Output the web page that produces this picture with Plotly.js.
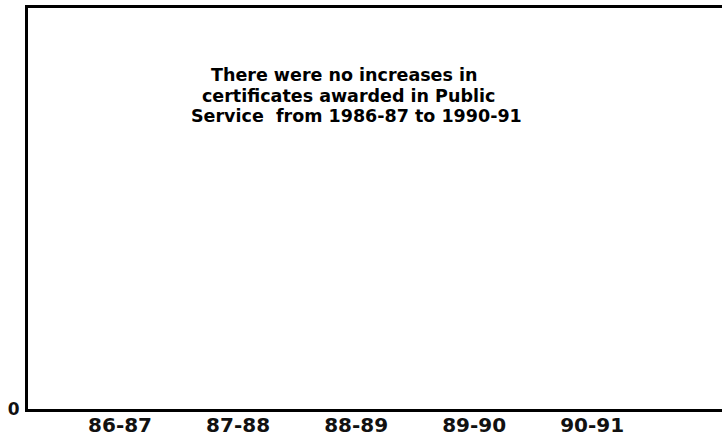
<!DOCTYPE html>
<html>
<head>
<meta charset="utf-8">
<script src="https://cdn.plot.ly/plotly-3.0.1.min.js"></script>
<style>html,body{margin:0;padding:0;background:#fff;}#chart{width:722px;height:438px;}</style>
</head>
<body>
<div id="chart"></div>
<script>
const categories = ["86-87", "87-88", "88-89", "89-90", "90-91"];
const certificates = [0, 0, 0, 0, 0];
const yTickValues = [0];
const yTickLabels = ["0"];
const noteLines = [
  "There were no increases in",
  "certificates awarded in Public",
  "Service  from 1986-87 to 1990-91"
];

const FONT = "DejaVu Sans, Verdana, sans-serif";
const plotTop = 8, plotBottom = 409, plotLeft = 28, plotWidth = 722 - 28;
const linePix = [75, 95.5, 116];
const lineX = [344, 348, 356];

const trace = {
  type: "bar",
  x: [0, 1, 2, 3, 4],
  y: certificates,
  marker: {color: "#000"},
  hoverinfo: "skip"
};

const layout = {
  width: 722,
  height: 438,
  margin: {l: 28, r: 0, t: 8, b: 29},
  paper_bgcolor: "#fff",
  plot_bgcolor: "#fff",
  showlegend: false,
  font: {family: FONT, color: "#000"},
  xaxis: {
    range: [-0.78, 5.1],
    tickvals: [0, 1, 2, 3, 4],
    ticktext: categories,
    showgrid: false,
    zeroline: false,
    showline: true,
    linecolor: "#000",
    linewidth: 3,
    mirror: true,
    ticks: "",
    ticklabelstandoff: -4,
    tickfont: {size: 20, family: FONT, weight: "bold", color: "#111"}
  },
  yaxis: {
    range: [0, 10],
    tickvals: yTickValues,
    ticktext: yTickLabels,
    showgrid: false,
    zeroline: false,
    showline: true,
    linecolor: "#000",
    linewidth: 3,
    ticks: "",
    ticklabelstandoff: 2,
    tickfont: {size: 17, family: FONT, weight: "bold", color: "#111"}
  },
  annotations: noteLines.map((t, i) => ({
    xref: "paper", yref: "paper",
    x: (lineX[i] - plotLeft) / plotWidth,
    y: (plotBottom - linePix[i]) / (plotBottom - plotTop),
    xanchor: "center", yanchor: "middle",
    text: t,
    showarrow: false,
    borderpad: 0,
    font: {size: 17.5, family: FONT, weight: "bold", color: "#000"}
  }))
};

Plotly.newPlot("chart", [trace], layout, {displayModeBar: false, staticPlot: true});
</script>
</body>
</html>
